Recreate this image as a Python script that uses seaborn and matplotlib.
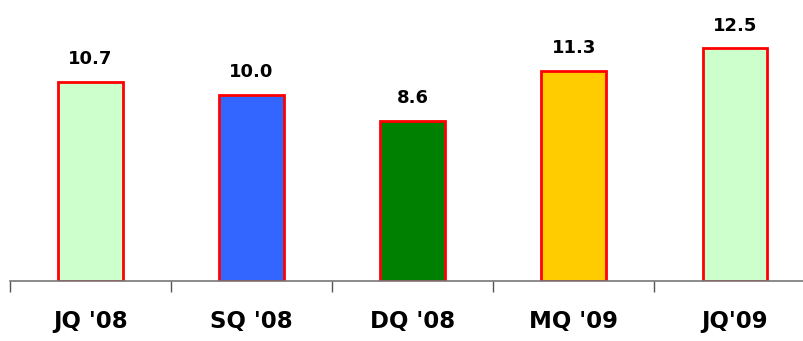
import matplotlib
matplotlib.use("Agg")
import matplotlib.pyplot as plt
import seaborn as sns
import pandas as pd

quarters = ["JQ '08", "SQ '08", "DQ '08", "MQ '09", "JQ'09"]
values = [10.7, 10.0, 8.6, 11.3, 12.5]
bar_colors = ["#CCFFCC", "#3366FF", "#008000", "#FFCC00", "#CCFFCC"]

df = pd.DataFrame({"quarter": quarters, "value": values})

sns.set_theme(style="white")
plt.rcParams["font.family"] = ["DejaVu Sans"]

fig = plt.figure(figsize=(8.04, 3.41), dpi=100)
ax = fig.add_axes([10 / 804, 60 / 341, 794 / 804, 281 / 341])

sns.barplot(data=df, x="quarter", y="value", hue="quarter",
            palette=bar_colors, legend=False, width=0.40,
            edgecolor="#FF0000", linewidth=2.0, ax=ax, saturation=1)

for i, v in enumerate(values):
    ax.text(i, v + 1.22, f"{v:.1f}", ha="center", va="center",
            fontsize=13, fontweight="bold", color="black")

ax.set_xlim(-0.5, 4.43)
ax.set_ylim(0, 15.1)
ax.set_xlabel("")
ax.set_ylabel("")
ax.set_yticks([])

# category labels sit between boundary ticks
ax.set_xticks([-0.5, 0.5, 1.5, 2.5, 3.5])
ax.set_xticklabels([])
ax.tick_params(axis="x", direction="out", length=8, width=1, color="#555555", bottom=True)
for i, q in enumerate(quarters):
    ax.text(i, -2.2, q, ha="center", va="center", fontsize=16.5,
            fontweight="bold", color="black", clip_on=False)

for s in ["top", "right", "left"]:
    ax.spines[s].set_visible(False)
ax.spines["bottom"].set_color("#777777")
ax.spines["bottom"].set_linewidth(1.2)

fig.savefig("out.png", dpi=100)
